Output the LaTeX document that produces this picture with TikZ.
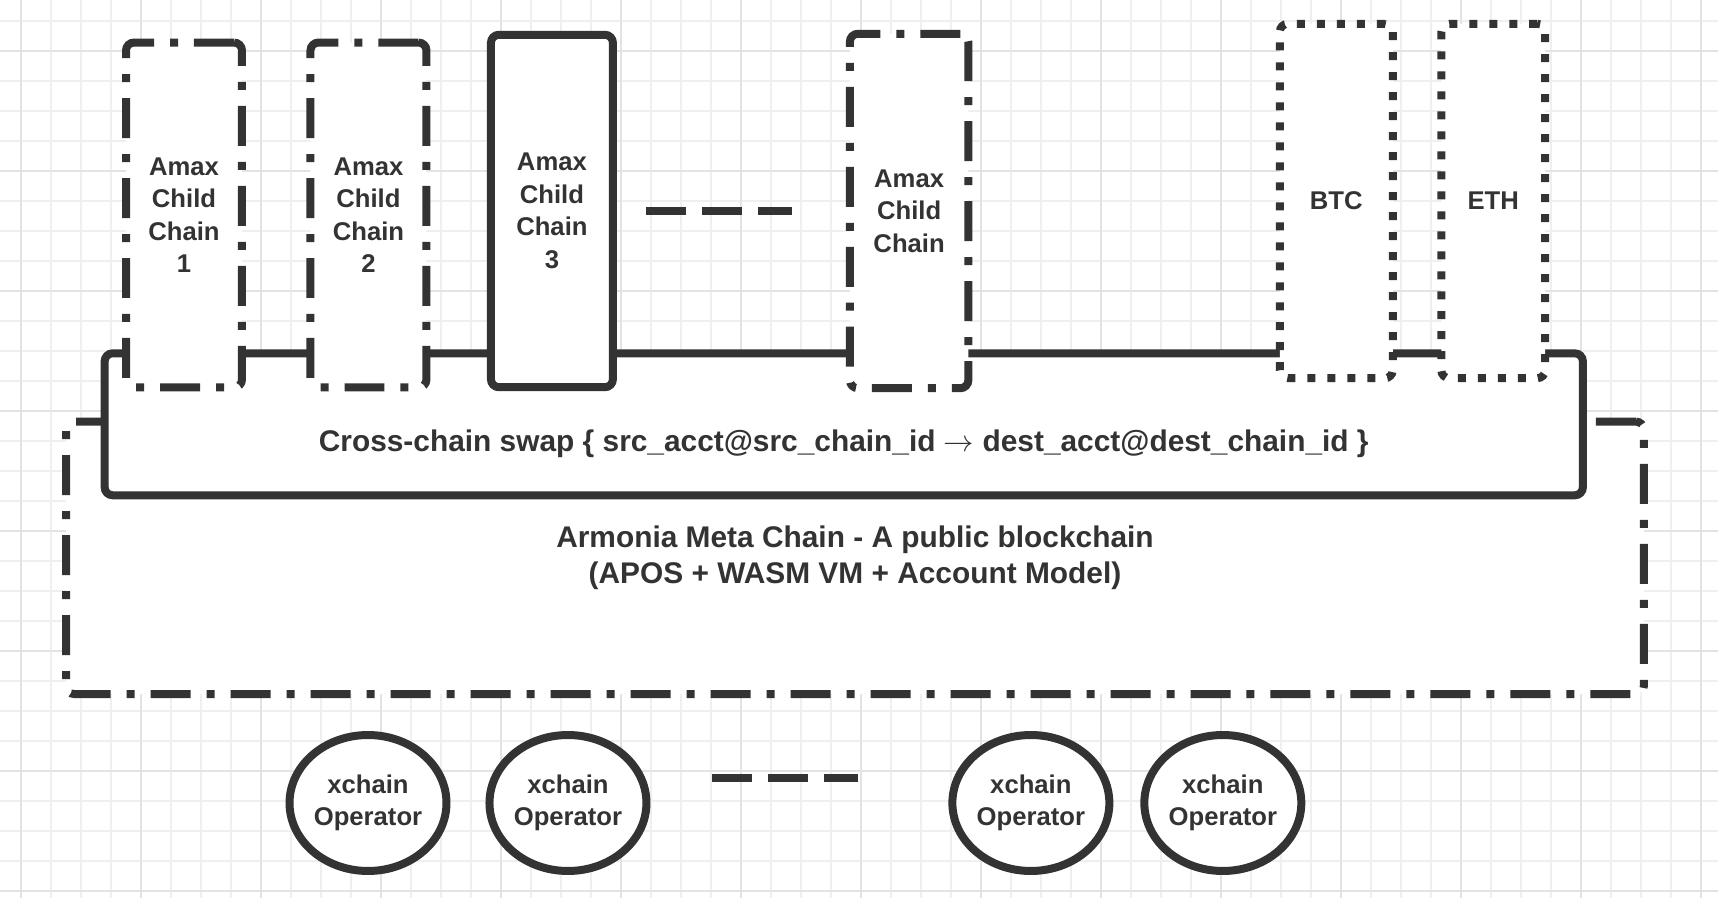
\documentclass[tikz,border=0pt]{standalone}
\usepackage{fontspec}
\setmainfont{Liberation Sans}
\usetikzlibrary{positioning,shapes.geometric}
\definecolor{ink}{HTML}{333333}
\definecolor{gridminor}{HTML}{EFEFEF}
\definecolor{gridmajor}{HTML}{E3E3E3}

\begin{document}
\begin{tikzpicture}[x=0.02cm, y=-0.02cm,
  every node/.style={text=ink, font=\bfseries\fontsize{14.6pt}{18.5pt}\selectfont, align=center, inner sep=0pt, outer sep=0pt},
  chainbox/.style={draw=ink, line width=0.16cm, fill=white, rounded corners=0.16cm},
  dashdotline/.style={dash pattern=on 0.8cm off 0.32cm on 0.16cm off 0.32cm},
  dotline/.style={dash pattern=on 0.16cm off 0.24cm},
  bigtext/.style={font=\bfseries\fontsize{17pt}{21pt}\selectfont},
  opnode/.style={ellipse, draw=ink, line width=0.16cm, fill=white, minimum width=3.14cm, minimum height=2.72cm},
  gapline/.style={draw=ink, line width=0.16cm, dash pattern=on 0.8cm off 0.32cm}]
\useasboundingbox (0,0) rectangle (1718,898);

% grid
\foreach \x in {21,51,...,1701} \draw[gridminor, line width=0.04cm] (\x,0) -- (\x,898);
\foreach \y in {21,51,...,891} \draw[gridminor, line width=0.04cm] (0,\y) -- (1718,\y);
\foreach \x in {21,141,...,1701} \draw[gridmajor, line width=0.04cm] (\x,0) -- (\x,898);
\foreach \y in {51,171,...,891} \draw[gridmajor, line width=0.04cm] (0,\y) -- (1718,\y);

% meta chain
\node[chainbox, dashdotline, bigtext, minimum width=31.56cm, minimum height=5.45cm]
  (meta) at (855,557.8) {Armonia Meta Chain - A public blockchain\\(APOS + WASM VM + Account Model)};

% cross-chain swap
\node[chainbox, minimum width=29.57cm, minimum height=2.84cm] (swap) at (843.75,424.3) {};
\node[bigtext] (swaptxt) at ([yshift=-0.39cm]swap.center)
  {Cross-chain swap \{ src\_acct@src\_chain\_id $\rightarrow$ dest\_acct@dest\_chain\_id \}};

% child chains
\node[chainbox, dashdotline, minimum width=2.32cm, minimum height=6.9cm]
  (c1) at (184,215) {Amax\\Child\\Chain\\1};
\node[chainbox, dashdotline, minimum width=2.32cm, minimum height=6.9cm, right=1.37cm of c1]
  (c2) {Amax\\Child\\Chain\\2};
\node[chainbox, minimum width=2.44cm, minimum height=7.05cm, right=1.29cm of c2, yshift=0.08cm]
  (c3) {Amax\\Child\\Chain\\3};
\node[chainbox, dashdotline, minimum width=2.37cm, minimum height=7.09cm, right=4.74cm of c3]
  (c4) {Amax\\Child\\Chain};
\draw[gapline] ([xshift=0.66cm]c3.east) -- ([xshift=-1.16cm]c4.west);

% other chains
\node[chainbox, dotline, minimum width=2.26cm, minimum height=7.09cm, right=6.23cm of c4, yshift=0.2cm]
  (btc) {BTC};
\node[chainbox, dotline, minimum width=2.08cm, minimum height=7.09cm, right=0.97cm of btc]
  (eth) {ETH};

% operators
\node[opnode] (op1) at (368,803) {xchain\\Operator};
\node[opnode, right=0.86cm of op1] (op2) {xchain\\Operator};
\node[opnode, right=6.12cm of op2] (op3) {xchain\\Operator};
\node[opnode, right=0.7cm of op3] (op4) {xchain\\Operator};
\draw[gapline] ([xshift=1.32cm, yshift=0.5cm]op2.east) -- ([xshift=-1.88cm, yshift=0.5cm]op3.west);
\end{tikzpicture}
\end{document}
